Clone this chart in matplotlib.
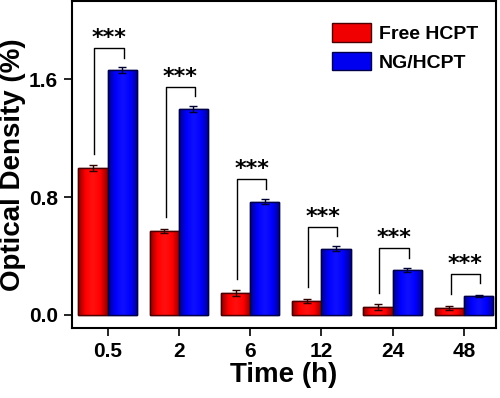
import numpy as np
import matplotlib
matplotlib.use('Agg')
import matplotlib.pyplot as plt
from matplotlib.colors import LinearSegmentedColormap

plt.rcParams['font.family'] = ['Liberation Sans', 'DejaVu Sans']

times = ['0.5', '2', '6', '12', '24', '48']
free_hcpt = [1.00, 0.57, 0.15, 0.095, 0.055, 0.048]
free_err = [0.02, 0.015, 0.02, 0.012, 0.018, 0.012]
ng_hcpt = [1.66, 1.40, 0.77, 0.45, 0.305, 0.13]
ng_err = [0.02, 0.02, 0.02, 0.015, 0.015, 0.008]
sig = ['***'] * 6

red_cm = LinearSegmentedColormap.from_list('r', ['#8a0000', '#ff0000', '#ff1010', '#ff0000', '#8a0000'])
blue_cm = LinearSegmentedColormap.from_list('b', ['#00008a', '#0000ff', '#1010ff', '#0000ff', '#00008a'])

fig = plt.figure(figsize=(5, 3.98), dpi=100)
ax = fig.add_axes([0.144, 0.176, 0.848, 0.821])

x = np.arange(len(times))
w = 0.41
b1 = ax.bar(x - w/2, free_hcpt, w, color='#f00000', edgecolor='#4a0000', linewidth=1,
            label='Free HCPT', zorder=2)
b2 = ax.bar(x + w/2, ng_hcpt, w, color='#0000f0', edgecolor='#00004a', linewidth=1,
            label='NG/HCPT', zorder=2)

# gradient shading inside the bars
grad = np.linspace(0, 1, 64).reshape(1, -1)
for bars, cm in [(b1, red_cm), (b2, blue_cm)]:
    for p in bars:
        x0, y0 = p.get_x(), p.get_y()
        im = ax.imshow(grad, cmap=cm, aspect='auto', zorder=2.5,
                       extent=[x0, x0 + p.get_width(), y0, y0 + p.get_height()])
        im.set_clip_path(p)
for bars in (b1, b2):
    for p in bars:
        ax.add_patch(plt.Rectangle((p.get_x(), p.get_y()), p.get_width(), p.get_height(),
                                   fill=False, edgecolor=p.get_edgecolor(), lw=1, zorder=3))

ax.errorbar(x - w/2, free_hcpt, yerr=free_err, fmt='none', ecolor='#300000',
            elinewidth=1, capsize=3, capthick=1, zorder=4)
ax.errorbar(x + w/2, ng_hcpt, yerr=ng_err, fmt='none', ecolor='#000030',
            elinewidth=1, capsize=3, capthick=1, zorder=4)

# significance brackets
for i in range(len(times)):
    xl = x[i] - w/2 + 0.02
    xr = x[i] + w/2 + 0.02
    yl = free_hcpt[i] + 0.095
    yr = ng_hcpt[i] + 0.085
    top = yr + 0.065
    ax.plot([xl, xl, xr, xr], [yl, top, top, yr], color='black', lw=1, zorder=4)
    ax.text((xl + xr) / 2, top + 0.0, sig[i], ha='center', va='bottom',
            fontsize=16, fontweight='bold', family='DejaVu Sans')

ax.set_xlim(-0.5, 5.45)
ax.set_ylim(-0.088, 2.13)
ax.set_xticks(x)
ax.set_xticklabels(times)
ax.set_yticks([0.0, 0.8, 1.6])
ax.yaxis.set_major_formatter(matplotlib.ticker.FormatStrFormatter('%.1f'))
ax.tick_params(axis='both', direction='out', length=6, width=1.2, labelsize=15, pad=4)
for lab in ax.get_xticklabels() + ax.get_yticklabels():
    lab.set_fontweight('bold')
for s in ax.spines.values():
    s.set_linewidth(1.5)

ax.set_xlabel('Time (h)', fontsize=20, fontweight='bold', labelpad=1)
ax.set_ylabel('Optical Density (%)', fontsize=20, fontweight='bold')
ax.yaxis.set_label_coords(-0.108, 0.5)

leg = ax.legend(loc='upper right', frameon=False, handlelength=2.0,
                handleheight=1.1, borderaxespad=0.3, labelspacing=0.45, handletextpad=0.4,
                prop={'size': 14, 'weight': 'bold'}, bbox_to_anchor=(0.99, 0.975))

fig.savefig('out.png', dpi=100)
